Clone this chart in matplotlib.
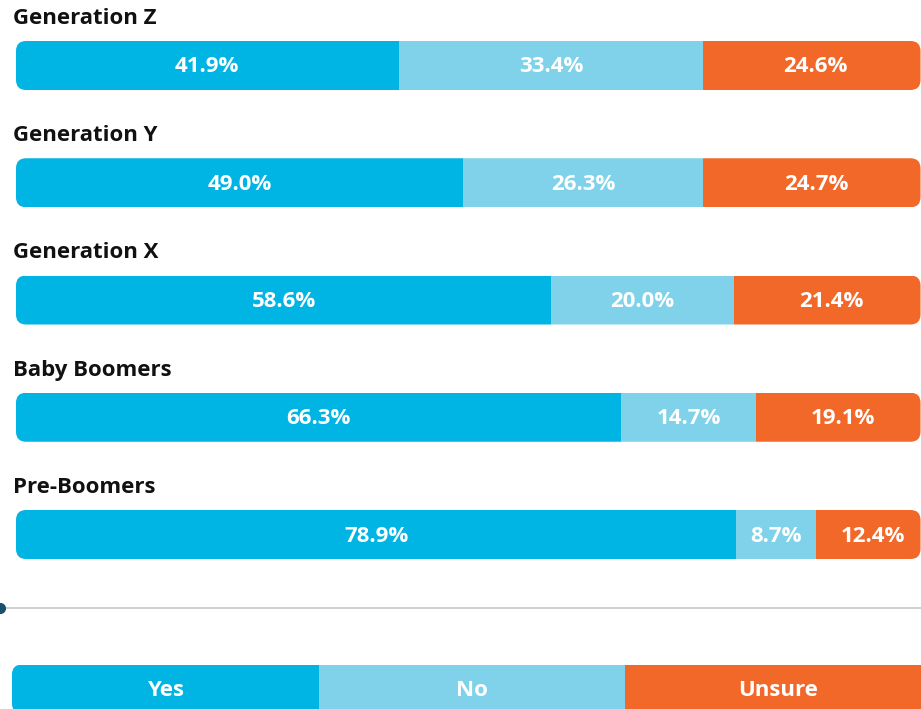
import matplotlib
matplotlib.use("Agg")
import matplotlib.pyplot as plt
from matplotlib.patches import FancyBboxPatch
import numpy as np

# data
groups = ["Generation Z", "Generation Y", "Generation X", "Baby Boomers", "Pre-Boomers"]
yes = [41.9, 49.0, 58.6, 66.3, 78.9]
no = [33.4, 26.3, 20.0, 14.7, 8.7]
unsure = [24.6, 24.7, 21.4, 19.1, 12.4]
legend_labels = ["Yes", "No", "Unsure"]

colors = ["#00b4e3", "#7fd2e9", "#f26829"]
FONT = "Open Sans"
FS = 16

W, H = 921, 709
fig = plt.figure(figsize=(W / 100, H / 100), dpi=100)
ax = fig.add_axes([0, 0, 1, 1])

# pixel geometry -> data units (bars start at 16 px)
px_x = 9.13                 # px per percent
px_y = 117.25               # px per row
x0 = -16 / px_x
x_end = (W - 16) / px_x     # right edge of the picture
ax.set_xlim(x0, x_end)
ax.set_ylim((H - 65.5) / px_y, -65.5 / px_y)
ax.axis("off")

bar_h = 49 / px_y
radius = 10 / px_x
aspect = px_x / px_y
txt_dy = 1.5 / px_y

series = [yes, no, unsure]

# --- group bars ---
for i, name in enumerate(groups):
    total = yes[i] + no[i] + unsure[i]
    clip = FancyBboxPatch((0, i - bar_h / 2), min(total, x_end - 0.05), bar_h,
                          boxstyle=f"round,pad=0,rounding_size={radius}",
                          mutation_aspect=aspect, transform=ax.transData,
                          facecolor="none", edgecolor="none")
    ax.add_patch(clip)
    left = 0
    for vals, c in zip(series, colors):
        w = vals[i]
        b = ax.barh(i, w, left=left, height=bar_h, color=c, linewidth=0)
        for r in b:
            r.set_clip_path(clip)
        ax.text(left + w / 2, i + txt_dy, f"{vals[i]:.1f}%", ha="center", va="center",
                color="white", fontsize=FS, fontweight="bold", family=FONT)
        left += w
    ax.text(-3 / px_x, i - 47 / px_y, name, ha="left", va="center",
            color="#111111", fontsize=FS, fontweight="bold", family=FONT)

# --- separator line ---
sep_y = (608 - 65.5) / px_y
ax.plot([x0, x_end], [sep_y, sep_y], color="#cccccc", lw=1.3, zorder=1)
ax.plot([x0], [sep_y], "o", color="#1b4f72", ms=7, clip_on=False, zorder=2)

# --- legend bar ---
leg_y = (689 - 65.5) / px_y
leg_left = -4 / px_x
seg_w = 306.5 / px_x
leg_clip = FancyBboxPatch((leg_left, leg_y - bar_h / 2), seg_w * 3 + 2, bar_h,
                          boxstyle=f"round,pad=0,rounding_size={radius}",
                          mutation_aspect=aspect, transform=ax.transData,
                          facecolor="none", edgecolor="none")
ax.add_patch(leg_clip)
for k, (lab, c) in enumerate(zip(legend_labels, colors)):
    b = ax.barh(leg_y, seg_w, left=leg_left + k * seg_w, height=bar_h,
                color=c, linewidth=0)
    for r in b:
        r.set_clip_path(leg_clip)
    ax.text(leg_left + k * seg_w + seg_w / 2, leg_y + txt_dy, lab, ha="center", va="center",
            color="white", fontsize=FS, fontweight="bold", family=FONT)

fig.savefig("out.png", dpi=100)
